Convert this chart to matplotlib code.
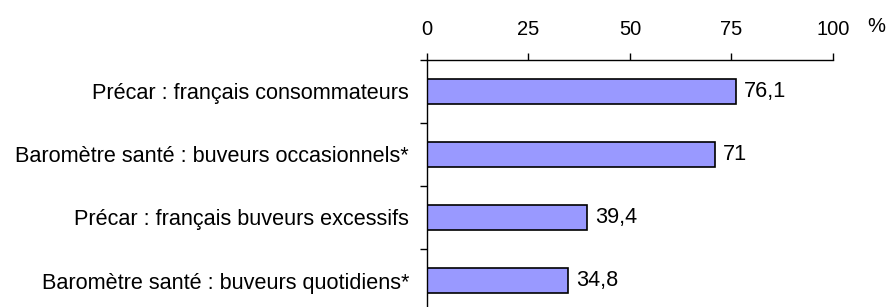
import matplotlib.pyplot as plt
import numpy as np

# data
categories = ['Précar : français consommateurs',
              'Baromètre santé : buveurs occasionnels*',
              'Précar : français buveurs excessifs',
              'Baromètre santé : buveurs quotidiens*']
values = [76.1, 71, 39.4, 34.8]
value_labels = ['76,1', '71', '39,4', '34,8']
xticks = [0, 25, 50, 75, 100]

plt.rcParams['font.family'] = ['Liberation Sans', 'DejaVu Sans']
fs = 15.6
fs_tick = 14.5

fig = plt.figure(figsize=(8.91, 3.07), dpi=100)
ax = fig.add_axes([0.4792, -0.0163, 0.4557, 0.8209])

y = np.arange(len(categories))
ax.barh(y, values, height=0.41, color='#9999FF', edgecolor='black', linewidth=1.2)

for yi, v, lab in zip(y, values, value_labels):
    ax.text(v + 2, yi, lab, va='center', ha='left', fontsize=fs)

ax.set_xlim(0, 100)
ax.set_ylim(len(categories) - 0.5, -0.5)

ax.xaxis.tick_top()
ax.set_xticks(xticks)
ax.set_xticklabels([str(t) for t in xticks], fontsize=fs_tick)
ax.tick_params(axis='x', direction='out', length=5, width=1, pad=10)

ax.set_yticks(y)
ax.set_yticklabels(categories, fontsize=fs)
ax.tick_params(axis='y', which='major', length=0, pad=13)
ax.set_yticks(np.arange(-0.5, len(categories)), minor=True)
ax.tick_params(axis='y', which='minor', direction='out', length=5, width=1)

for s in ['right', 'bottom']:
    ax.spines[s].set_visible(False)
for s in ['top', 'left']:
    ax.spines[s].set_linewidth(1)

ax.text(1.107, 1.095, '%', transform=ax.transAxes, fontsize=fs_tick,
        ha='center', va='bottom')

fig.savefig('out.png', dpi=100)
